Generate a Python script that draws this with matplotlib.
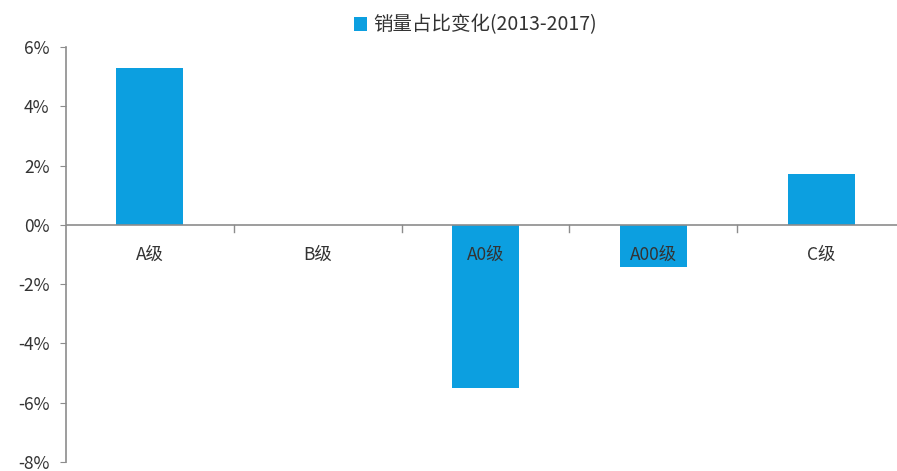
import matplotlib
matplotlib.use("Agg")
import matplotlib.pyplot as plt
from matplotlib.ticker import FuncFormatter

plt.rcParams['font.family'] = ['Noto Sans CJK SC', 'DejaVu Sans']

categories = ["A级", "B级", "A0级", "A00级", "C级"]
share_change = [5.3, 0.0, -5.52, -1.43, 1.72]  # percent, 2013-2017
series_name = "销量占比变化(2013-2017)"

BAR_COLOR = "#0c9fe0"
TEXT_COLOR = "#333333"
AXIS_COLOR = "#8c8c8c"

fig = plt.figure(figsize=(8.97, 4.71), dpi=100)
# axes placed by pixel box: left spine x=66, 6% at y=47, -8% at y=462
ax = fig.add_axes([66 / 897, 1 - 462 / 471, (905 - 66) / 897, (462 - 47) / 471])

x = list(range(len(categories)))
ax.bar(x, share_change, width=0.4, color=BAR_COLOR, label=series_name, zorder=2)

ax.set_xlim(-0.5, 4.5)
ax.set_ylim(-8, 6)
ax.set_yticks(range(-8, 7, 2))
ax.yaxis.set_major_formatter(FuncFormatter(lambda v, _: f"{v:.0f}%"))
ax.tick_params(axis="y", length=4, color=AXIS_COLOR, labelsize=12.5, labelcolor=TEXT_COLOR, pad=8)
for lbl in ax.get_yticklabels():
    lbl.set_fontweight("medium")

# category labels sit just below the zero line
ax.set_xticks([])
for xi, name in zip(x, categories):
    ax.text(xi, -1.0, name, ha="center", va="center", fontsize=12.5, fontweight="medium",
            color=TEXT_COLOR, zorder=3)

# zero line with small ticks between categories
ax.axhline(0, color=AXIS_COLOR, lw=1.2, zorder=3)
for b in [0.5, 1.5, 2.5, 3.5]:
    ax.plot([b, b], [0, -0.25], color=AXIS_COLOR, lw=1, zorder=3)

for side in ["top", "right", "bottom"]:
    ax.spines[side].set_visible(False)
ax.spines["left"].set_color(AXIS_COLOR)
ax.spines["left"].set_linewidth(1.2)

leg = fig.legend(loc="center", bbox_to_anchor=(0.53, 1 - 25 / 471), frameon=False,
                 prop={"size": 14, "weight": "medium"},
                 handlelength=0.7, handleheight=0.7, handletextpad=0.3)
for t in leg.get_texts():
    t.set_color(TEXT_COLOR)

fig.savefig("out.png", dpi=100)
